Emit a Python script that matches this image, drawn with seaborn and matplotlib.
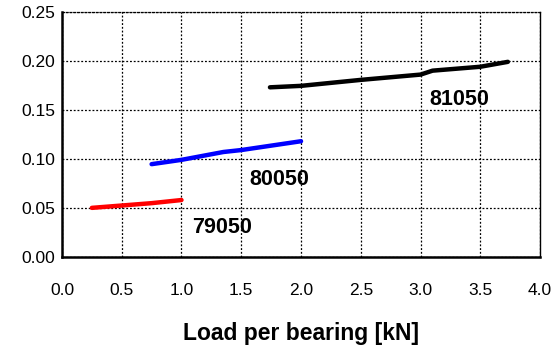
import numpy as np
import matplotlib
matplotlib.use("Agg")
import matplotlib.pyplot as plt
import pandas as pd
import seaborn as sns

# bearing series
load_79050 = [0.25, 0.5, 0.75, 1.0]
val_79050 = [0.050, 0.0524, 0.0548, 0.058]

load_80050 = [0.75, 1.0, 1.35, 1.5, 2.0]
val_80050 = [0.0946, 0.099, 0.107, 0.109, 0.118]

load_81050 = [1.74, 2.0, 2.5, 3.0, 3.1, 3.5, 3.73]
val_81050 = [0.173, 0.1745, 0.1806, 0.186, 0.190, 0.194, 0.199]

names = ['79050', '80050', '81050']
colors = ['#ff0000', '#0000ff', '#000000']

df = pd.concat([
    pd.DataFrame({'load': load_79050, 'val': val_79050, 'bearing': '79050'}),
    pd.DataFrame({'load': load_80050, 'val': val_80050, 'bearing': '80050'}),
    pd.DataFrame({'load': load_81050, 'val': val_81050, 'bearing': '81050'}),
])

sns.set_style('white')
plt.rcParams['font.family'] = ['Liberation Sans', 'DejaVu Sans']
plt.rcParams['text.color'] = 'black'
plt.rcParams['xtick.color'] = 'black'
plt.rcParams['ytick.color'] = 'black'
plt.rcParams['axes.labelcolor'] = 'black'

fig = plt.figure(figsize=(5.58, 3.49), dpi=100)
ax = fig.add_axes([0.111, 0.264, 0.857, 0.702])

sns.lineplot(data=df, x='load', y='val', hue='bearing', palette=dict(zip(names, colors)),
             linewidth=3.2, legend=False, ax=ax, sort=True)

# labels next to each curve
ax.text(3.32, 0.161, '81050', fontsize=15.5, fontweight='bold', ha='center', va='center')
ax.text(1.82, 0.079, '80050', fontsize=15.5, fontweight='bold', ha='center', va='center')
ax.text(1.34, 0.030, '79050', fontsize=15.5, fontweight='bold', ha='center', va='center')

ax.set_xlim(0, 4.0)
ax.set_ylim(0, 0.25)
ax.set_xticks(np.arange(0, 4.01, 0.5))
ax.set_yticks(np.arange(0, 0.251, 0.05))
ax.set_xticklabels(['%.1f' % v for v in np.arange(0, 4.01, 0.5)])
ax.set_yticklabels(['%.2f' % v for v in np.arange(0, 0.251, 0.05)])

ax.grid(True, color='black', linestyle=(0, (1.5, 1.5)), linewidth=0.9)
ax.set_axisbelow(True)

ax.spines['left'].set_linewidth(1.8)
ax.spines['bottom'].set_linewidth(1.8)
ax.spines['right'].set_linewidth(1.0)
ax.spines['top'].set_linestyle((0, (1.5, 1.5)))
ax.spines['top'].set_linewidth(0.9)
for s in ax.spines.values():
    s.set_color('black')

ax.tick_params(axis='both', direction='out', length=4, width=1.2, color='black',
               labelsize=12.5)
ax.tick_params(axis='x', pad=15)
ax.tick_params(axis='y', pad=1)
ax.set_xlabel('Load per bearing [kN]', fontsize=16.5, fontweight='bold', labelpad=17)
ax.set_ylabel('')

fig.savefig('out.png', dpi=100)
